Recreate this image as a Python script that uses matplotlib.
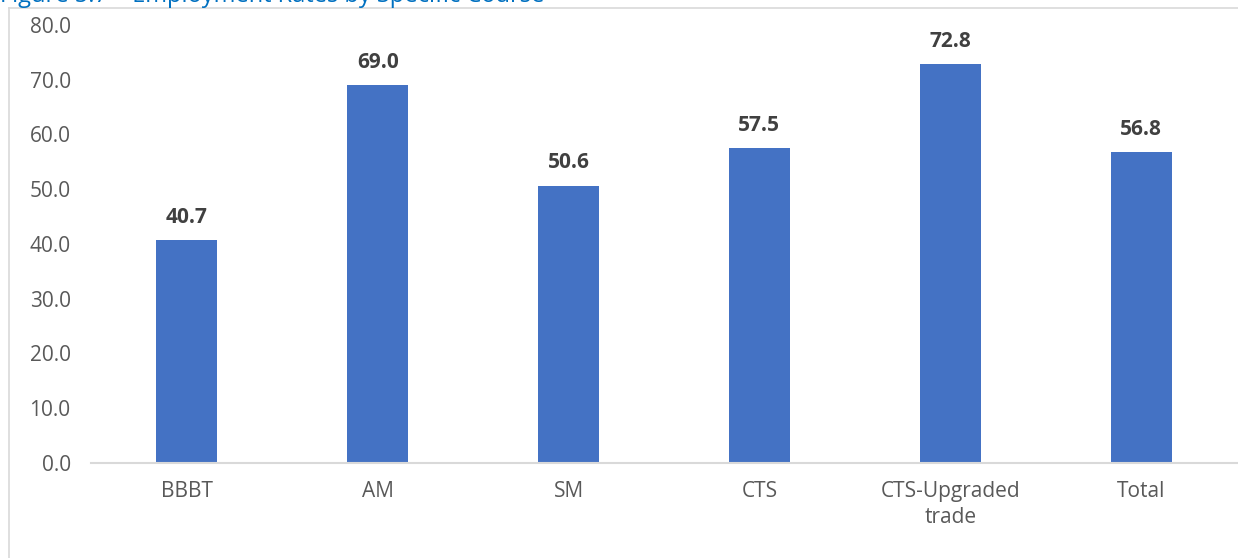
import matplotlib.pyplot as plt
from matplotlib.lines import Line2D

# Employment rate (%) per course
courses = ['BBBT', 'AM', 'SM', 'CTS', 'CTS-Upgraded\ntrade', 'Total']
rates = [40.7, 69.0, 50.6, 57.5, 72.8, 56.8]
y_ticks = [0, 10, 20, 30, 40, 50, 60, 70, 80]

plt.rcParams['font.family'] = ['Open Sans', 'DejaVu Sans']

fig = plt.figure(figsize=(12.38, 5.58), dpi=100)
ax = fig.add_axes([0.0739, 0.1703, 0.9249, 0.7849])

x = range(len(courses))
bars = ax.bar(x, rates, width=0.32, color='#4472C4', zorder=2)

ax.set_xlim(-0.5, len(courses) - 0.5)
ax.set_ylim(0, 80)
ax.set_yticks(y_ticks)
ax.set_yticklabels([f'{v:.1f}' for v in y_ticks], fontsize=15, color='#595959')
ax.set_xticks(list(x))
ax.set_xticklabels(courses, fontsize=15, color='#595959', linespacing=1.3)
ax.tick_params(axis='both', length=0)
ax.tick_params(axis='x', pad=13)
ax.tick_params(axis='y', pad=15)

for side in ['top', 'right', 'left']:
    ax.spines[side].set_visible(False)
ax.spines['bottom'].set_color('#d9d9d9')
ax.spines['bottom'].set_linewidth(1.5)

# value labels above each bar
for xi, v in zip(x, rates):
    ax.annotate(f'{v:.1f}', (xi, v), xytext=(0, 9), textcoords='offset points',
                ha='center', va='bottom', fontsize=15, fontweight='bold',
                color='#404040')

# chart frame (top and left edges) and caption above it
fig.add_artist(Line2D([8.5 / 1238, 8.5 / 1238], [0, 1 - 8 / 558],
                      color='#d9d9d9', lw=1.2))
fig.add_artist(Line2D([8.5 / 1238, 1], [1 - 8 / 558, 1 - 8 / 558],
                      color='#d9d9d9', lw=1.2))
fig.text(0.0, 1 - 2 / 558, 'Figure 5.7 \u2013 Employment Rates by Specific Course',
         fontsize=17, color='#0070C0', ha='left', va='baseline')

fig.savefig('out.png', dpi=100)
